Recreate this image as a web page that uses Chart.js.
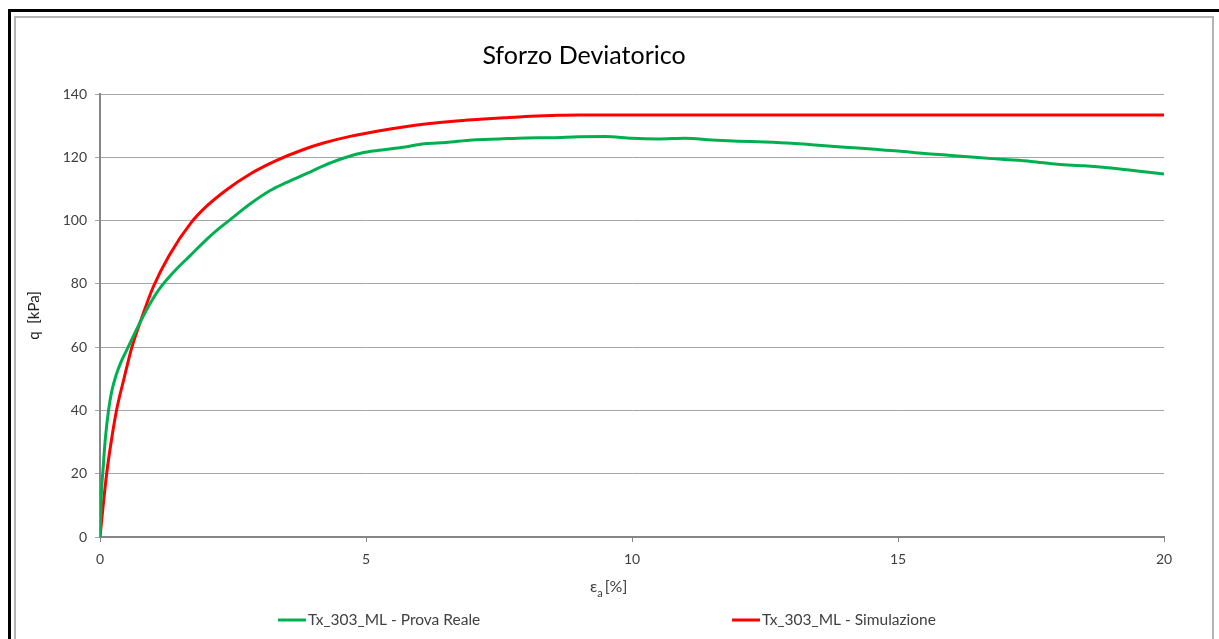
<!DOCTYPE html>
<html>
<head>
<meta charset="utf-8">
<script src="https://cdn.jsdelivr.net/npm/chart.js@4"></script>
<style>
  html, body { margin: 0; padding: 0; background: #fff; }
  body { width: 1219px; height: 639px; position: relative; overflow: hidden; }
  .frame-outer { position: absolute; left: 8px; top: 9px; width: 1240px; height: 700px;
    border-top: 3px solid #000; border-left: 3px solid #000; }
  .frame-inner { position: absolute; left: 14px; top: 16px; width: 1196px; height: 700px;
    border: 2px solid #b4b4b4; }
  canvas { position: absolute; left: 0; top: 0; }
</style>
</head>
<body>
<div class="frame-outer"></div>
<div class="frame-inner"></div>
<canvas id="chart" width="1219" height="639"></canvas>
<script>
// measured test (axial strain %, deviator stress kPa)
const strainReal = [0, 0.02, 0.06, 0.1, 0.16, 0.22, 0.3, 0.4, 0.5, 0.7, 0.9, 1.1, 1.4, 1.7, 2.0, 2.2, 2.5, 2.8, 3.2, 3.5,
  3.9, 4.2, 4.5, 4.9, 5.3, 5.7, 6.1, 6.5, 7.0, 7.5, 8.0, 8.5, 9.0, 9.5, 10.0, 10.5, 11.0, 11.5, 12.0,
  12.5, 13.0, 13.5, 14.0, 14.5, 15.0, 15.5, 16.0, 16.5, 17.0, 17.5, 18.0, 18.5, 19.0, 19.5, 20.0];
const qReal = [0, 12, 22, 31, 40, 46, 51, 55.5, 59, 66, 72.5, 78, 84, 89, 94, 97, 101, 105, 109.5, 112,
  115, 117.3, 119.3, 121.3, 122.3, 123.2, 124.3, 124.7, 125.5, 125.8, 126.1, 126.2, 126.5, 126.6, 126.0, 125.8, 126.0, 125.5, 125.1,
  124.8, 124.4, 123.8, 123.2, 122.6, 122.0, 121.2, 120.6, 119.9, 119.3, 118.7, 117.8, 117.3, 116.6, 115.7, 114.7];

// model simulation
const strainSim = [0, 0.06, 0.125, 0.2, 0.31, 0.45, 0.6, 0.8, 1.0, 1.3, 1.72, 2.0, 2.4, 2.8, 3.32, 3.8, 4.2, 4.7,
  5.26, 5.7, 6.2, 6.7, 7.14, 7.6, 8.0, 8.5, 9.0, 20];
const qSim = [0, 10, 20, 29, 40, 50, 60, 70, 79, 89, 99.5, 104.5, 110, 114.5, 119, 122.3, 124.5, 126.6,
  128.4, 129.6, 130.7, 131.5, 132.0, 132.5, 132.9, 133.2, 133.4, 133.4];

const xTicks = [0, 5, 10, 15, 20];
const yTicks = [0, 20, 40, 60, 80, 100, 120, 140];

const chartTitle = 'Sforzo Deviatorico';
const yTitle = 'q  [kPa]';
const seriesNames = ['Tx_303_ML - Prova Reale', 'Tx_303_ML - Simulazione'];

const FONT = 'Lato, "Open Sans", sans-serif';
const TEXT = '#404040';
const AXIS = '#868686';
const GRID = '#a6a6a6';

const toPoints = (xs, ys) => xs.map((x, i) => ({ x, y: ys[i] }));

// title, axis titles and legend drawn by hand (subscript, fixed spacing)
const decorations = {
  id: 'decorations',
  afterDraw(chart) {
    const { ctx, chartArea: area } = chart;
    ctx.save();
    ctx.fillStyle = '#000';
    ctx.textBaseline = 'middle';
    ctx.textAlign = 'center';
    ctx.font = `25px ${FONT}`;
    ctx.fillText(chartTitle, 584, 56);

    // y title, rotated
    ctx.fillStyle = '#202020';
    ctx.font = `15px ${FONT}`;
    ctx.save();
    ctx.translate(34, (area.top + area.bottom) / 2);
    ctx.rotate(-Math.PI / 2);
    ctx.fillText(yTitle, 0, 0);
    ctx.restore();

    // x title: epsilon with subscript a
    ctx.fillStyle = TEXT;
    ctx.textAlign = 'left';
    ctx.font = `16px ${FONT}`;
    let x = 590;
    ctx.fillText('ε', x, 587);
    x += ctx.measureText('ε').width;
    ctx.font = `11px ${FONT}`;
    ctx.fillText('a', x, 593);
    x += ctx.measureText('a').width + 2;
    ctx.font = `16px ${FONT}`;
    ctx.fillText('[%]', x, 587);

    // legend
    const legendX = [278, 732];
    ctx.font = `15.5px ${FONT}`;
    chart.data.datasets.forEach((ds, i) => {
      const lx = legendX[i];
      ctx.strokeStyle = ds.borderColor;
      ctx.lineWidth = 3;
      ctx.beginPath();
      ctx.moveTo(lx, 620);
      ctx.lineTo(lx + 28, 620);
      ctx.stroke();
      ctx.fillStyle = TEXT;
      ctx.fillText(ds.label, lx + 30, 620);
    });
    ctx.restore();
  }
};

new Chart(document.getElementById('chart'), {
  type: 'scatter',
  data: {
    datasets: [
      {
        label: seriesNames[0],
        data: toPoints(strainReal, qReal),
        showLine: true,
        borderColor: '#00b050',
        borderWidth: 3,
        pointRadius: 0,
        cubicInterpolationMode: 'monotone',
      },
      {
        label: seriesNames[1],
        data: toPoints(strainSim, qSim),
        showLine: true,
        borderColor: '#ff0000',
        borderWidth: 3,
        pointRadius: 0,
        cubicInterpolationMode: 'monotone',
      },
    ],
  },
  options: {
    responsive: false,
    animation: false,
    layout: { padding: { left: 0, right: 55, top: 94, bottom: 72 } },
    plugins: { legend: { display: false }, tooltip: { enabled: false }, title: { display: false } },
    scales: {
      x: {
        type: 'linear',
        min: xTicks[0],
        max: xTicks[xTicks.length - 1],
        afterBuildTicks: (scale) => { scale.ticks = xTicks.map((v) => ({ value: v })); },
        afterFit: (scale) => { scale.height = 30; },
        grid: { drawOnChartArea: false, drawTicks: true, tickLength: 5, color: AXIS },
        border: { color: AXIS, width: 2 },
        ticks: { color: TEXT, font: { family: FONT, size: 14 }, padding: 9, maxRotation: 0 },
      },
      y: {
        min: yTicks[0],
        max: yTicks[yTicks.length - 1],
        afterBuildTicks: (scale) => { scale.ticks = yTicks.map((v) => ({ value: v })); },
        afterFit: (scale) => { scale.width = 100; },
        grid: { color: GRID, lineWidth: 1, tickLength: 5 },
        border: { color: AXIS, width: 2 },
        ticks: { color: TEXT, font: { family: FONT, size: 14 }, padding: 8 },
      },
    },
  },
  plugins: [decorations],
});
</script>
</body>
</html>
